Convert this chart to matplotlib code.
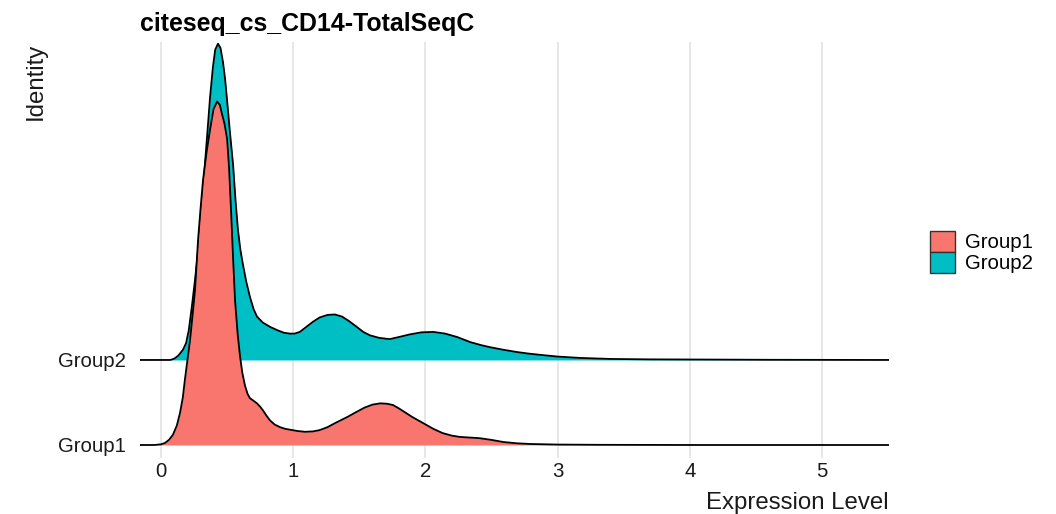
import matplotlib
matplotlib.use("Agg")
import matplotlib.pyplot as plt
from matplotlib.patches import Patch

plt.rcParams['font.family'] = ['Liberation Sans', 'DejaVu Sans']

# Ridge baselines (identity positions) and colours
groups = ["Group1", "Group2"]
baselines = [1.0, 2.0]
colors = ["#F8766D", "#00BFC4"]

# Density outline for Group1 (expression level, ridge height)
g1_x = [-0.16, -0.05, 0.0, 0.03, 0.06, 0.09, 0.12, 0.144, 0.165, 0.18, 0.20,
        0.22, 0.24, 0.257, 0.28, 0.30, 0.318, 0.345, 0.371, 0.397, 0.424, 0.445,
        0.46, 0.48, 0.50, 0.515, 0.53, 0.545, 0.56, 0.58, 0.598, 0.615, 0.635,
        0.655, 0.673, 0.70, 0.726, 0.75, 0.77, 0.80, 0.824, 0.86, 0.90, 0.94,
        0.976, 1.03, 1.09, 1.15, 1.20, 1.26, 1.32, 1.41, 1.48, 1.54, 1.60, 1.66,
        1.71, 1.755, 1.80, 1.83, 1.90, 1.98, 2.06, 2.13, 2.20, 2.26, 2.33, 2.41,
        2.50, 2.59, 2.69, 2.79, 3.0, 3.32, 4.0, 5.51]
g1_h = [0.0, 0.0, 0.008, 0.024, 0.06, 0.12, 0.23, 0.38, 0.56, 0.76, 1.0,
        1.24, 1.55, 1.82, 2.41, 2.80, 3.12, 3.45, 3.71, 3.95, 4.04, 4.00,
        3.90, 3.78, 3.60, 3.25, 2.75, 2.20, 1.70, 1.30, 1.04, 0.85, 0.70,
        0.60, 0.55, 0.52, 0.49, 0.45, 0.41, 0.34, 0.29, 0.24, 0.21, 0.19,
        0.18, 0.165, 0.155, 0.16, 0.175, 0.21, 0.26, 0.33, 0.39, 0.44, 0.475, 0.49,
        0.485, 0.47, 0.43, 0.40, 0.33, 0.26, 0.19, 0.14, 0.11, 0.095, 0.088, 0.08,
        0.06, 0.035, 0.02, 0.012, 0.005, 0.002, 0.0, 0.0]

# Density outline for Group2
g2_x = [-0.16, 0.07, 0.10, 0.13, 0.166, 0.19, 0.21, 0.235, 0.257, 0.275, 0.295,
        0.315, 0.333, 0.352, 0.371, 0.393, 0.41, 0.431, 0.45, 0.469, 0.485, 0.50,
        0.52, 0.545, 0.565, 0.582, 0.60, 0.62, 0.645, 0.673, 0.70, 0.726, 0.77,
        0.824, 0.88, 0.93, 0.976, 1.01, 1.05, 1.10, 1.15, 1.20, 1.26, 1.316, 1.37,
        1.42, 1.48, 1.53, 1.58, 1.65, 1.73, 1.80, 1.88, 1.97, 2.06, 2.15, 2.24,
        2.34, 2.42, 2.49, 2.59, 2.69, 2.78, 2.87, 3.0, 3.17, 3.4, 3.7, 4.08,
        4.6, 5.51]
g2_h = [0.0, 0.0, 0.015, 0.05, 0.12, 0.20, 0.35, 0.65, 0.94, 1.20, 1.53,
        1.90, 2.32, 2.70, 3.09, 3.45, 3.65, 3.72, 3.67, 3.50, 3.30, 3.05,
        2.70, 2.30, 1.85, 1.53, 1.30, 1.12, 0.92, 0.74, 0.60, 0.51, 0.44,
        0.39, 0.35, 0.32, 0.31, 0.31, 0.33, 0.39, 0.45, 0.50, 0.53, 0.535, 0.51,
        0.46, 0.39, 0.33, 0.29, 0.26, 0.245, 0.27, 0.30, 0.325, 0.33, 0.31, 0.27,
        0.21, 0.175, 0.15, 0.12, 0.094, 0.075, 0.06, 0.04, 0.024, 0.012, 0.007, 0.005,
        0.002, 0.0]

x_ticks = [0, 1, 2, 3, 4, 5]

fig = plt.figure(figsize=(10.56, 5.14), dpi=100)
ax = fig.add_axes([140 / 1056, 1 - 458 / 514, 749 / 1056, 416 / 514])

for xv in x_ticks:
    ax.axvline(xv, color="#E5E5E5", lw=1.3, zorder=0)

# top ridge first so the lower ridge overlaps it
series = [(g2_x, g2_h, baselines[1], colors[1]), (g1_x, g1_h, baselines[0], colors[0])]
for i, (xs, hs, base, col) in enumerate(series):
    ys = [base + h for h in hs]
    ax.fill_between(xs, base, ys, color=col, lw=0, zorder=2 + i)
    ax.plot(xs, ys, color="black", lw=1.3, zorder=2 + i,
            solid_joinstyle="round", solid_capstyle="butt")

ax.set_xlim(-0.159, 5.507)
ax.set_ylim(0.847, 5.74)
ax.set_xticks(x_ticks)
ax.set_xticklabels([str(v) for v in x_ticks], fontsize=14.7, color="#1A1A1A")
ax.set_yticks(baselines)
ax.set_yticklabels(groups, fontsize=14.7, color="#1A1A1A")
ax.tick_params(axis="x", length=0, pad=3)
ax.tick_params(axis="y", length=0, pad=10)
for s in ax.spines.values():
    s.set_visible(False)

fig.text(140 / 1056, 1 - 31 / 514, "citeseq_cs_CD14-TotalSeqC", fontsize=17.9,
         fontweight="bold", ha="left", va="baseline")
fig.text(889 / 1056, 1 - 509 / 514, "Expression Level", fontsize=17.3,
         ha="right", va="baseline", color="#1A1A1A")
fig.text(36 / 1056, 1 - 43 / 514, "Identity", fontsize=17.3, rotation=90,
         ha="center", va="top", color="#1A1A1A")

handles = [Patch(facecolor=c, edgecolor="#333333", lw=1.0) for c in colors]
leg = fig.legend(handles, groups, loc="center left", bbox_to_anchor=(920 / 1056, 1 - 252 / 514),
                 frameon=False, fontsize=14.7, handlelength=1.2, handleheight=1.2,
                 handletextpad=0.5, labelspacing=0.0, borderpad=0.0)

fig.savefig("out.png", dpi=100)
